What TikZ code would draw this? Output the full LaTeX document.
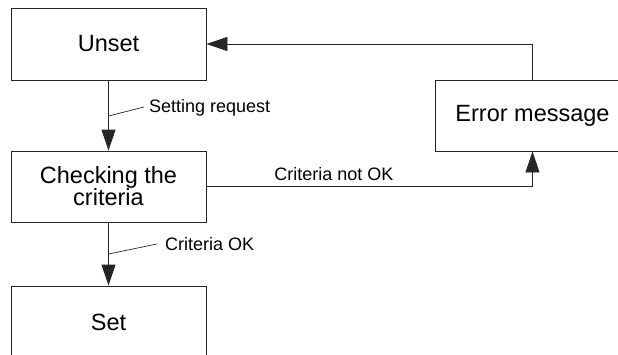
\documentclass[tikz,border=0pt]{standalone}
\usepackage{fontspec}
\setmainfont{Liberation Sans}
\usetikzlibrary{arrows.meta}
\begin{document}
\begin{tikzpicture}[x=1pt,y=-1pt,
  statebox/.style={draw=black!85, line width=0.9pt, minimum width=195pt, minimum height=72pt,
    inner sep=0pt, align=center, font=\fontsize{23.5}{24}\selectfont},
  flow/.style={draw=black!85, line width=0.9pt, -{Triangle[length=21pt,width=14pt]}},
  leader/.style={draw=black!85, line width=0.7pt},
  lbl/.style={font=\fontsize{18}{20}\selectfont, inner sep=0pt}]
\useasboundingbox (0,0) rectangle (618,354);
\clip (0,0) rectangle (618,354);
\fill[white] (0,0) rectangle (618,354);

% states
\node[statebox] (unset) at (108.5,44) {Unset};
\node[statebox, minimum height=71pt] (check) at (108.5,186.5) {Checking the\\[-2pt]criteria};
\node[statebox] (set) at (108.5,322) {Set};
\node[statebox, minimum height=71pt] (err) at (532.5,115.5) {Error message};

% transitions
\draw[flow] (unset) -- (check);
\draw[flow] (check) -- (set);
\draw[flow] (check.east) -| (err.south);
\draw[flow] (err.north) |- (unset.east);

% transition labels
\coordinate (sr1) at (108.5,116);
\coordinate (sr2) at (144,107);
\draw[leader] (sr1) -- (sr2);
\node[lbl, anchor=west] (srl) at (149,108) {Setting request};

\coordinate (ok1) at (108.5,254);
\coordinate (ok2) at (157,244);
\draw[leader] (ok1) -- (ok2);
\node[lbl, anchor=west] (okl) at (165,244) {Criteria OK};

\node[lbl] (nok) at (334,174) {Criteria not OK};
\end{tikzpicture}
\end{document}
